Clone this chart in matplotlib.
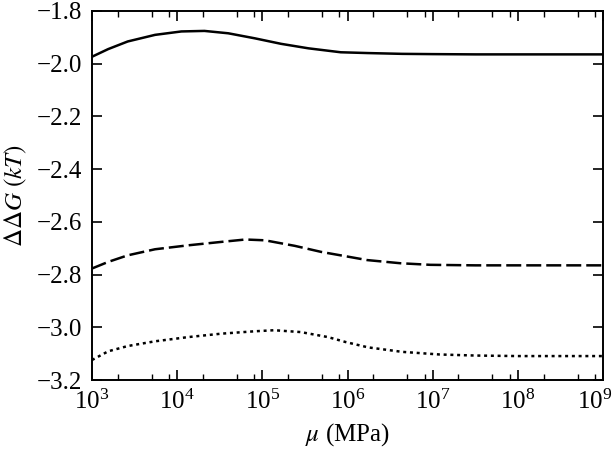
import numpy as np
import matplotlib
matplotlib.use('Agg')
import matplotlib.pyplot as plt
import matplotlib.transforms as mtransforms
from matplotlib.ticker import LogLocator, FixedLocator, NullFormatter

plt.rcParams['font.family'] = ['Liberation Serif', 'DejaVu Serif']
plt.rcParams['mathtext.fontset'] = 'stix'

# values; x given as log10 of mu (MPa)
logmu_solid = [3.0, 3.19, 3.42, 3.74, 4.05, 4.32, 4.60, 4.91, 5.22, 5.54, 5.92,
               6.24, 6.64, 7.0, 7.5, 8.0, 8.5, 9.0]
dG_solid = [-1.974, -1.945, -1.916, -1.891, -1.878, -1.876, -1.885, -1.904, -1.925,
            -1.942, -1.957, -1.960, -1.963, -1.964, -1.965, -1.965, -1.965, -1.965]

logmu_dashed = [3.0, 3.19, 3.42, 3.74, 4.13, 4.52, 4.80, 5.03, 5.38, 5.69, 5.97,
                6.23, 6.62, 6.97, 7.5, 8.0, 8.5, 9.0]
dG_dashed = [-2.777, -2.752, -2.727, -2.704, -2.689, -2.676, -2.667, -2.670, -2.691,
             -2.714, -2.730, -2.745, -2.757, -2.763, -2.765, -2.765, -2.765, -2.765]

logmu_dotted = [3.0, 3.19, 3.42, 3.74, 4.13, 4.52, 4.91, 5.14, 5.45, 5.77, 5.98,
                6.24, 6.64, 7.08, 7.5, 8.0, 8.5, 9.0]
dG_dotted = [-3.124, -3.091, -3.071, -3.053, -3.037, -3.024, -3.015, -3.011, -3.018,
             -3.037, -3.056, -3.076, -3.093, -3.103, -3.107, -3.109, -3.109, -3.109]

yticks = [-3.2, -3.0, -2.8, -2.6, -2.4, -2.2, -2.0, -1.8]

fig = plt.figure(figsize=(6.13, 4.53), dpi=100)
ax = fig.add_axes([0.150, 0.161, 0.834, 0.815])

lw = 1.8
ax.plot([10 ** v for v in logmu_solid], dG_solid, color='black', lw=lw, ls='-')
ax.plot([10 ** v for v in logmu_dashed], dG_dashed, color='black', lw=lw, ls=(0, (6, 2)))
ax.plot([10 ** v for v in logmu_dotted], dG_dotted, color='black', lw=lw, ls=(0, (1.2, 1.5)))

ax.set_xscale('log')
ax.set_xlim(1e3, 1e9)
ax.set_ylim(-3.2, -1.8)
ax.xaxis.set_major_locator(LogLocator(base=10, numticks=10))
ax.xaxis.set_minor_locator(LogLocator(base=10, subs=(2, 5, 8), numticks=10))
ax.xaxis.set_minor_formatter(NullFormatter())
ax.yaxis.set_major_locator(FixedLocator(yticks))
ax.set_yticklabels([('\u2212%.1f' % -v) for v in yticks])

fs = 18
ax.tick_params(which='both', direction='in', top=True, right=True, labelsize=fs)
ax.tick_params(which='major', length=7, width=1.2, pad=7)
ax.tick_params(which='minor', length=4, width=1.0)
for s in ax.spines.values():
    s.set_linewidth(1.4)

ax.set_xlabel(r'$\mu$ (MPa)', fontsize=fs, labelpad=5)
ax.set_ylabel(r'$\Delta\Delta G\ (kT)$', fontsize=fs, labelpad=6)

# last x label sits a bit to the left in the original
fig.canvas.draw()
shift = mtransforms.ScaledTranslation(-0.09, 0, fig.dpi_scale_trans)
for tick in ax.xaxis.get_major_ticks():
    if abs(np.log10(tick.get_loc()) - 9) < 1e-6:
        tick.label1.set_transform(tick.label1.get_transform() + shift)

fig.savefig('out.png', dpi=100)
